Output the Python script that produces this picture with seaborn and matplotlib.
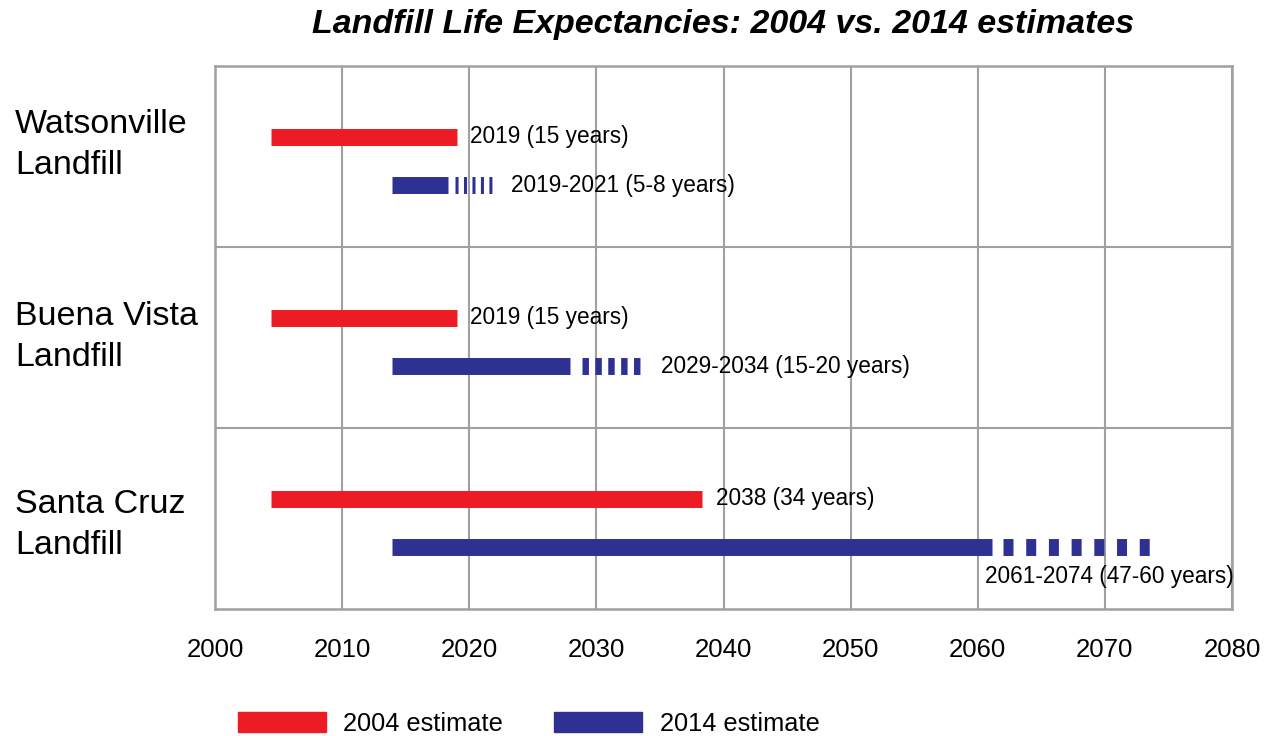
import pandas as pd
import numpy as np
import seaborn as sns
import matplotlib.pyplot as plt
from matplotlib.patches import Patch

sns.set_style('white')
plt.rcParams['font.family'] = ['Liberation Sans', 'DejaVu Sans']
plt.rcParams['text.color'] = 'black'
plt.rcParams['xtick.color'] = 'black'
plt.rcParams['ytick.color'] = 'black'

# data
landfills = ['Watsonville\nLandfill', 'Buena Vista\nLandfill', 'Santa Cruz\nLandfill']
start_2004 = [2004.4, 2004.4, 2004.4]
end_2004 = [2019.0, 2019.0, 2038.3]
start_2014 = [2013.9, 2013.9, 2013.9]
solid_end_2014 = [2018.3, 2027.9, 2061.1]
dash_start_2014 = [2018.9, 2028.9, 2062.0]
dash_end_2014 = [2022.0, 2033.8, 2074.1]
labels_2004 = ['2019 (15 years)', '2019 (15 years)', '2038 (34 years)']
labels_2014 = ['2019-2021 (5-8 years)', '2029-2034 (15-20 years)', '2061-2074 (47-60 years)']
years = list(range(2000, 2081, 10))

red = '#ED1C24'
blue = '#2E3192'
grey = '#a0a0a0'

# long-form table of segments
rows = []
seg = 0
for i in range(len(landfills)):
    y_red = i + 0.39
    y_blue = i + 0.66
    for x in (start_2004[i], end_2004[i]):
        rows.append(dict(seg=seg, estimate='2004 estimate', pattern='solid', year=x, ypos=y_red))
    seg += 1
    for x in (start_2014[i], solid_end_2014[i]):
        rows.append(dict(seg=seg, estimate='2014 estimate', pattern='solid', year=x, ypos=y_blue))
    seg += 1
    for x in (dash_start_2014[i], dash_end_2014[i]):
        rows.append(dict(seg=seg, estimate='2014 estimate', pattern='dash%d' % i, year=x, ypos=y_blue))
    seg += 1
df = pd.DataFrame(rows)

dash_styles = {'solid': '', 'dash0': (0.18, 0.32), 'dash1': (0.38, 0.38), 'dash2': (0.59, 0.75)}

fig = plt.figure(figsize=(12.73, 7.36), dpi=100)
ax = fig.add_axes([215/1273, 1-609/736, (1232-215)/1273, (609-66)/736])

sns.lineplot(data=df, x='year', y='ypos', hue='estimate', style='pattern', units='seg',
             estimator=None, sort=False, palette={'2004 estimate': red, '2014 estimate': blue},
             dashes=dash_styles, linewidth=12.2, legend=False, ax=ax,
             solid_capstyle='butt', dash_capstyle='butt', zorder=3)

ax.set_xlim(2000, 2080)
ax.set_ylim(3, 0)
ax.set_xticks(years)
ax.set_xticklabels([str(y) for y in years], fontsize=18.5)
ax.tick_params(axis='x', length=0, pad=21)
ax.grid(axis='x', color=grey, linewidth=1.5, zorder=0)
ax.set_axisbelow(True)
for b in (1, 2):
    ax.axhline(b, color=grey, linewidth=1.5, zorder=0)
for s in ax.spines.values():
    s.set_color(grey)
    s.set_linewidth(1.8)
ax.set_xlabel('')
ax.set_ylabel('')

# landfill names on the left, placed within each band
label_offsets = [0.39, 0.45, 0.49]
ax.set_yticks([i + label_offsets[i] for i in range(len(landfills))])
ax.set_yticklabels(landfills, fontsize=24.5, ha='left', linespacing=1.42)
ax.tick_params(axis='y', length=0, pad=144)

# labels next to bars
for i in range(len(landfills)):
    ax.annotate(labels_2004[i], xy=(end_2004[i], i + 0.39), xytext=(10, 0),
                textcoords='offset points', va='center', fontsize=16.3)
    if dash_end_2014[i] > 2070:
        ax.annotate(labels_2014[i], xy=(solid_end_2014[i], i + 0.66), xytext=(-5, -21),
                    textcoords='offset points', va='center', fontsize=16.3,
                    annotation_clip=False)
    else:
        ax.annotate(labels_2014[i], xy=(dash_end_2014[i], i + 0.66), xytext=(12, 0),
                    textcoords='offset points', va='center', fontsize=16.3)

fig.text(723/1273, 1-25/736, 'Landfill Life Expectancies: 2004 vs. 2014 estimates',
         ha='center', va='center', fontsize=24.5, fontweight='bold', style='italic')

handles = [Patch(color=red), Patch(color=blue)]
fig.legend(handles, ['2004 estimate', '2014 estimate'], loc='upper left',
           bbox_to_anchor=(238/1273, 1-712/736), ncol=2, frameon=False, fontsize=18.3,
           handlelength=3.45, handleheight=0.85, handletextpad=0.7, columnspacing=2.0,
           borderpad=0, borderaxespad=0)

fig.savefig('out.png', dpi=100)
